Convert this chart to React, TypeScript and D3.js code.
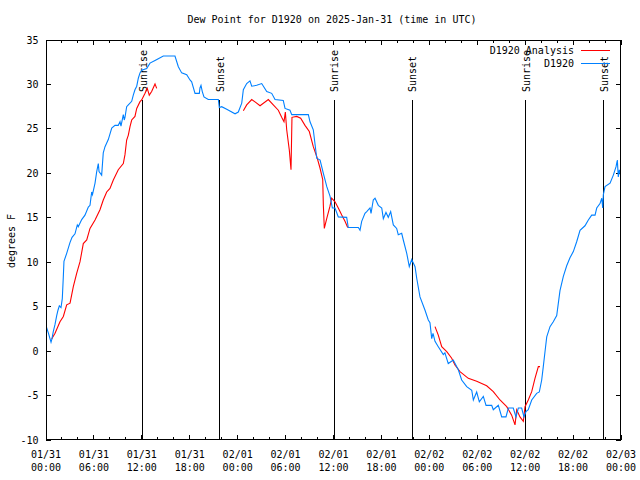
import React from "react";
import * as d3 from "d3";

const TITLE = "Dew Point for D1920 on 2025-Jan-31 (time in UTC)";
const Y_LABEL = "degrees F";
const LEGEND_LABELS = ["D1920 Analysis", "D1920"];

const yTickValues = [-10, -5, 0, 5, 10, 15, 20, 25, 30, 35];
const xTickHours = [0, 6, 12, 18, 24, 30, 36, 42, 48, 54, 60, 66, 72];
const xTickDates = ["01/31", "01/31", "01/31", "01/31", "02/01", "02/01", "02/01", "02/01", "02/02", "02/02", "02/02", "02/02", "02/03"];
const xTickTimes = ["00:00", "06:00", "12:00", "18:00", "00:00", "06:00", "12:00", "18:00", "00:00", "06:00", "12:00", "18:00", "00:00"];

const sunEventHours = [12.05, 21.7, 36.0, 45.77, 60.02, 69.79];
const sunEventNames = ["Sunrise", "Sunset", "Sunrise", "Sunset", "Sunrise", "Sunset"];

// hours since 01/31 00:00 UTC, dew point (F)
const stationObs: [number, number][] = [
  [0.06, 2.7], [0.31, 2.0], [0.63, 1.0], [0.75, 1.4], [0.91, 2.2], [1.13, 3.0], [1.34, 4.0], [1.5, 4.6],
  [1.67, 5.1], [1.88, 4.9], [2.04, 5.9], [2.17, 8.4], [2.25, 10.1], [2.59, 11.0], [3.0, 12.2], [3.26, 12.8],
  [3.63, 13.2], [3.92, 14.2], [4.04, 14.0], [4.47, 14.8], [4.88, 15.3], [5.3, 16.2], [5.51, 16.4], [5.72, 17.9],
  [5.82, 17.6], [6.14, 18.9], [6.35, 20.2], [6.55, 21.1], [6.64, 20.2], [6.97, 19.8], [7.17, 22.3], [7.39, 23.0],
  [7.8, 23.8], [8.23, 25.1], [8.64, 25.4], [9.05, 25.4], [9.27, 25.8], [9.39, 25.3], [9.68, 26.6], [9.8, 26.0],
  [9.89, 26.3], [10.1, 27.5], [10.31, 27.7], [10.73, 28.1], [10.93, 28.8], [11.14, 29.4], [11.36, 29.8], [11.56, 30.7],
  [11.77, 31.3], [11.98, 31.6], [12.61, 31.8], [13.02, 32.4], [13.65, 32.7], [14.06, 32.9], [14.69, 33.2], [16.15, 33.2],
  [16.57, 32.0], [16.99, 31.3], [17.62, 31.1], [18.03, 30.5], [18.24, 30.3], [18.66, 29.0], [19.2, 29.0], [19.28, 29.6],
  [19.41, 29.9], [19.57, 29.2], [19.78, 28.6], [20.32, 28.3], [21.58, 28.3], [21.7, 27.4], [22.0, 27.5], [22.63, 27.2],
  [23.67, 26.7], [24.08, 26.9], [24.51, 27.9], [24.71, 29.4], [25.13, 30.1], [25.54, 30.4], [25.76, 29.8], [26.38, 29.9],
  [27.01, 30.1], [27.64, 29.2], [28.26, 29.0], [28.68, 28.3], [29.71, 28.2], [29.93, 27.3], [30.55, 27.1], [30.77, 26.6],
  [32.85, 26.6], [33.06, 25.8], [33.47, 24.9], [33.9, 21.7], [34.32, 21.5], [34.73, 20.0], [35.16, 18.5], [35.57, 17.4],
  [35.86, 16.1], [36.19, 16.1], [36.6, 15.1], [37.65, 15.05], [37.85, 13.9], [39.11, 13.9], [39.32, 13.6], [39.53, 14.6],
  [39.94, 15.5], [40.16, 15.7], [40.57, 16.1], [40.7, 15.5], [40.98, 17.0], [41.2, 17.2], [41.61, 16.4], [42.04, 16.1],
  [42.24, 14.9], [42.57, 15.6], [42.86, 15.05], [43.16, 15.7], [43.49, 14.2], [43.91, 13.8], [44.11, 13.1], [44.54, 13.25],
  [44.74, 12.5], [45.17, 11.0], [45.49, 9.5], [45.79, 10.3], [46.21, 9.5], [46.42, 8.2], [46.83, 6.1], [47.46, 4.6],
  [47.87, 3.5], [48.08, 3.2], [48.3, 1.4], [48.46, 2.0], [48.71, 1.1], [49.12, 0.5], [49.75, -0.4], [49.95, -0.2],
  [50.37, -1.4], [51.0, -1.0], [51.63, -2.1], [52.05, -3.25], [52.68, -4.0], [53.31, -4.4], [53.51, -5.5], [53.93, -4.6],
  [54.26, -5.7], [54.76, -5.1], [55.1, -6.1], [55.81, -6.1], [56.01, -6.6], [56.64, -6.1], [57.06, -7.4], [57.6, -7.4],
  [57.89, -6.4], [58.51, -6.4], [58.85, -7.4], [59.14, -6.4], [59.56, -6.4], [59.85, -7.4], [60.1, -6.8], [60.39, -6.6],
  [60.82, -5.5], [61.44, -4.75], [61.77, -4.6], [62.07, -3.25], [62.27, -1.75], [62.48, -0.1], [62.7, 1.6], [63.11, 2.75],
  [63.52, 3.3], [63.95, 4.0], [64.36, 6.8], [64.78, 8.4], [65.2, 9.6], [65.61, 10.5], [66.03, 11.2], [66.45, 12.3],
  [66.87, 13.6], [67.49, 14.1], [67.91, 14.75], [68.33, 15.3], [68.75, 15.3], [68.96, 16.1], [69.37, 16.6], [69.59, 17.2],
  [69.71, 16.1], [69.79, 17.6], [70.0, 18.5], [70.63, 18.9], [71.04, 19.8], [71.38, 20.75], [71.54, 21.5], [71.66, 19.6],
  [71.79, 20.4], [71.94, 19.8],
];

const analysisDay1: [number, number][] = [
  [0.71, 1.36], [1.13, 2.0], [1.75, 3.3], [2.17, 3.9], [2.59, 5.2], [3.01, 5.4], [3.42, 7.25], [3.84, 8.75],
  [4.26, 10.06], [4.67, 12.1], [5.1, 12.5], [5.51, 13.8], [6.14, 14.75], [6.76, 15.9], [7.17, 17.0], [7.6, 17.9],
  [8.01, 18.3], [8.43, 19.25], [9.05, 20.4], [9.68, 21.1], [9.89, 22.1], [10.1, 23.75], [10.31, 24.3], [10.52, 25.25],
  [10.73, 26.0], [11.14, 26.4], [11.36, 27.3], [11.77, 28.06], [11.98, 28.25], [12.4, 29.0], [12.68, 29.56], [12.93, 28.8],
  [13.23, 29.2], [13.65, 30.06], [13.86, 29.56],
];

const analysisDay2: [number, number][] = [
  [24.71, 27.05], [25.13, 27.7], [25.76, 28.3], [26.3, 27.95], [26.8, 27.6], [27.84, 28.3], [28.46, 27.7], [29.09, 27.1],
  [29.51, 26.3], [29.8, 25.8], [29.97, 26.9], [30.14, 24.9], [30.47, 22.6], [30.68, 20.4], [30.8, 26.3], [31.39, 26.4],
  [31.89, 26.2], [32.43, 25.4], [32.97, 24.7], [33.47, 23.0], [33.9, 21.9], [34.31, 20.6], [34.65, 19.3], [34.73, 16.4],
  [34.85, 13.8], [35.15, 14.9], [35.56, 16.3], [35.77, 17.2], [36.19, 16.8], [36.6, 16.1], [37.03, 15.3], [37.44, 14.6],
  [37.78, 13.9],
];

const analysisDay3: [number, number][] = [
  [48.71, 2.75], [49.12, 1.8], [49.55, 0.5], [50.18, -0.06], [50.8, -0.8], [51.21, -1.56], [51.84, -2.3], [52.88, -3.06],
  [53.93, -3.4], [55.18, -3.9], [56.01, -4.56], [56.85, -5.5], [57.69, -6.25], [58.31, -7.2], [58.73, -8.3], [58.94, -6.6],
  [59.35, -7.4], [59.77, -7.9], [59.98, -6.25], [60.39, -5.5], [60.82, -4.56], [61.23, -3.06], [61.65, -1.75], [61.86, -1.75],
];

const BLUE = "#0080ff";
const RED = "#ff0000";
const FONT = "'DejaVu Sans Mono', monospace";

export default function App() {
  const W = 640, H = 480;
  const L = 46, R = 621, T = 40, B = 440;
  const x = d3.scaleLinear().domain([0, 72]).range([L, R]);
  const y = d3.scaleLinear().domain([-10, 35]).range([B, T]);
  const line = d3.line<[number, number]>().x((d) => x(d[0])).y((d) => y(d[1]));
  const minorHours = d3.range(0, 73, 2).filter((h) => h % 6 !== 0);
  const MAJ = 5, MIN = 3;

  return (
    <svg width={W} height={H} style={{ position: "absolute", left: 0, top: 0, background: "#fff" }} fontFamily={FONT} fontSize={10}>
      <rect x={0} y={0} width={W} height={H} fill="#fff" />
      <defs>
        <clipPath id="plotclip">
          <rect x={L} y={T} width={R - L} height={B - T} />
        </clipPath>
      </defs>
      <text x={332} y={22.5} textAnchor="middle" fill="#000">{TITLE}</text>

      {/* y ticks */}
      <g shapeRendering="crispEdges" stroke="#000">
        {yTickValues.map((v) => (
          <g key={"y" + v}>
            <line x1={L} x2={L + MAJ} y1={y(v)} y2={y(v)} />
            <line x1={R} x2={R - MAJ} y1={y(v)} y2={y(v)} />
          </g>
        ))}
        {xTickHours.map((h) => (
          <g key={"x" + h}>
            <line x1={x(h)} x2={x(h)} y1={B} y2={B - MAJ} />
            <line x1={x(h)} x2={x(h)} y1={T} y2={T + MAJ} />
          </g>
        ))}
        {minorHours.map((h) => (
          <g key={"m" + h}>
            <line x1={x(h)} x2={x(h)} y1={B} y2={B - MIN} />
            <line x1={x(h)} x2={x(h)} y1={T} y2={T + MIN} />
          </g>
        ))}
      </g>
      {yTickValues.map((v) => (
        <text key={"yl" + v} x={38.5} y={y(v)} dy="0.35em" textAnchor="end" fill="#000">{v}</text>
      ))}
      {xTickHours.map((h, i) => (
        <g key={"xl" + h}>
          <text x={x(h)} y={458} textAnchor="middle" fill="#000">{xTickDates[i]}</text>
          <text x={x(h)} y={471} textAnchor="middle" fill="#000">{xTickTimes[i]}</text>
        </g>
      ))}
      <text x={0} y={0} transform="translate(11,241) rotate(-90)" dy="0.35em" textAnchor="middle" fill="#000">{Y_LABEL}</text>

      {/* sunrise / sunset markers */}
      {sunEventHours.map((h, i) => (
        <g key={"s" + i}>
          <line x1={Math.round(x(h)) + 0.5} x2={Math.round(x(h)) + 0.5} y1={100} y2={B} stroke="#000" strokeWidth={1} />
          <text x={0} y={0} transform={`translate(${x(h) + 0.8},92) rotate(-90)`} dy="0.35em" textAnchor="start" fill="#000">{sunEventNames[i]}</text>
        </g>
      ))}

      {/* data */}
      <g clipPath="url(#plotclip)" fill="none" strokeWidth={1.1} strokeLinejoin="miter">
        {[analysisDay1, analysisDay2, analysisDay3].map((seg, i) => (
          <path key={"a" + i} d={line(seg) || ""} stroke={RED} />
        ))}
        <path d={line(stationObs) || ""} stroke={BLUE} />
      </g>

      {/* legend */}
      <text x={574} y={54} textAnchor="end" fill="#000">{LEGEND_LABELS[0]}</text>
      <line x1={581} x2={610} y1={50.5} y2={50.5} stroke={RED} strokeWidth={1} shapeRendering="crispEdges" />
      <text x={574} y={66.5} textAnchor="end" fill="#000">{LEGEND_LABELS[1]}</text>
      <line x1={581} x2={610} y1={63.5} y2={63.5} stroke={BLUE} strokeWidth={1} shapeRendering="crispEdges" />

      <rect x={L + 0.5} y={T + 0.5} width={R - L - 1} height={B - T - 1} fill="none" stroke="#000" strokeWidth={1} shapeRendering="crispEdges" />
    </svg>
  );
}
